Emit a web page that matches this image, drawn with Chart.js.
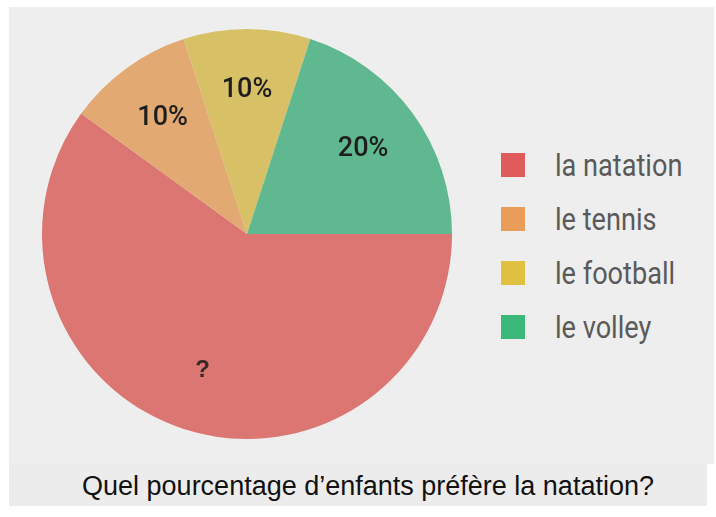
<!DOCTYPE html>
<html>
<head>
<meta charset="utf-8">
<script src="https://cdn.jsdelivr.net/npm/chart.js@4/dist/chart.umd.min.js"></script>
<style>
  html, body { margin: 0; padding: 0; background: #fff; }
  #page { position: relative; width: 716px; height: 517px; overflow: hidden; }
  #panel { position: absolute; left: 9px; top: 7px; width: 705px; height: 457px; background: #eeeeee; }
  #band { position: absolute; left: 9px; top: 464px; width: 698px; height: 42px; background: #ececec; }
  #pieWrap { position: absolute; left: 37px; top: 24px; width: 420px; height: 420px; }
  #legend { position: absolute; left: 501px; top: 153px; }
  .item { display: flex; align-items: center; height: 24px; margin-bottom: 30px; }
  .box { width: 24px; height: 24px; margin-right: 30px; }
  .txt { font-family: Roboto, "DejaVu Sans Condensed", sans-serif; font-size: 31px; color: #5a5a5a;
         white-space: nowrap; transform: scaleX(0.875); transform-origin: left center; }
  #caption { position: absolute; left: 19px; width: 698px; top: 473px; text-align: center;
             font-family: "Liberation Sans", Arial, sans-serif; font-size: 27px; line-height: 27px; color: #111; }
</style>
</head>
<body>
<div id="page">
  <div id="panel"></div>
  <div id="band"></div>
  <div id="pieWrap"><canvas id="pie" width="420" height="420"></canvas></div>
  <div id="legend"></div>
  <div id="caption">Quel pourcentage d’enfants préfère la natation?</div>
</div>
<script>
const sports = ['la natation', 'le tennis', 'le football', 'le volley'];
const shares = [60, 10, 10, 20];
const sliceLabels = ['?', '10%', '10%', '20%'];
const sliceColors = ['#dc7672', '#e2aa72', '#d8c066', '#5fb88f'];
const legendColors = ['#e05c5c', '#ea9d58', '#dfc041', '#3cb87a'];

// legend
const legend = document.getElementById('legend');
sports.forEach((s, i) => {
    const row = document.createElement('div');
    row.className = 'item';
    row.innerHTML = `<div class="box" style="background:${legendColors[i]}"></div><div class="txt">${s}</div>`;
    legend.appendChild(row);
});

// text inside the slices
const sliceText = {
    id: 'sliceText',
    afterDatasetsDraw(chart) {
        const ctx = chart.ctx;
        const arcs = chart.getDatasetMeta(0).data;
        ctx.save();
        ctx.textAlign = 'center';
        ctx.textBaseline = 'middle';
        arcs.forEach((arc, i) => {
            const p = arc.getProps(['x', 'y', 'startAngle', 'endAngle', 'outerRadius'], true);
            const mid = (p.startAngle + p.endAngle) / 2;
            const r = p.outerRadius * 0.7;
            const isQ = sliceLabels[i] === '?';
            ctx.font = isQ ? 'bold 24px "Liberation Sans", sans-serif' : '500 27px Roboto, sans-serif';
            ctx.fillStyle = isQ ? '#3a2a2a' : '#1e1e1e';
            ctx.fillText(sliceLabels[i], p.x + Math.cos(mid) * r, p.y + Math.sin(mid) * r);
        });
        ctx.restore();
    }
};

new Chart(document.getElementById('pie'), {
    type: 'pie',
    data: {
        labels: sports,
        datasets: [{
            data: shares,
            backgroundColor: sliceColors,
            borderWidth: 0
        }]
    },
    options: {
        responsive: false,
        animation: false,
        rotation: 90,
        layout: { padding: 5 },
        plugins: {
            legend: { display: false },
            tooltip: { enabled: false }
        }
    },
    plugins: [sliceText]
});
</script>
</body>
</html>
